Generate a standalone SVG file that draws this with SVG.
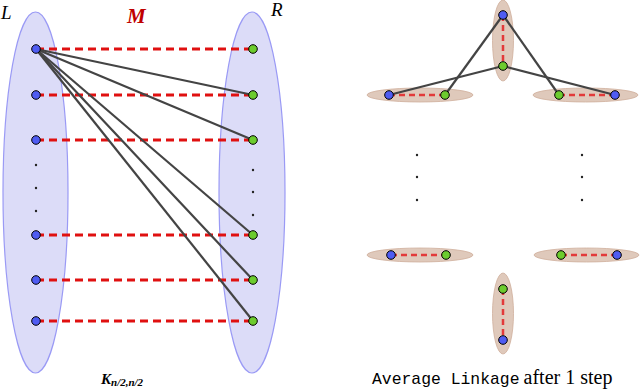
<svg xmlns="http://www.w3.org/2000/svg" width="640" height="392" viewBox="0 0 640 392">
<style>
.set{fill:#dcdcf8;stroke:#9a9af5;stroke-width:1.2}
.clu{fill:#dfc9bb;stroke:#cfae9c;stroke-width:0.8}
.b{fill:#4f5cf2;stroke:#000;stroke-width:1}
.g{fill:#6ccc2e;stroke:#000;stroke-width:1}
.m{stroke:#e01010;stroke-width:3;stroke-dasharray:8,5;fill:none}
.m2{stroke:#e23a3a;stroke-width:2.5;stroke-dasharray:6,4;fill:none}
.e{stroke:#444;stroke-width:2.2;fill:none}
.dot{fill:#222}
.it{font-family:"Liberation Serif","DejaVu Serif",serif;font-style:italic}
</style>
<rect width="640" height="392" fill="#fff"/>
<g id="setL"><ellipse class="set" cx="35.5" cy="192.5" rx="32.5" ry="180.5"/></g>
<g id="setR"><ellipse class="set" cx="252" cy="192.5" rx="33" ry="180.5"/></g>
<g id="clusters">
<ellipse class="clu" cx="503" cy="40.5" rx="10.5" ry="40.5"/>
<ellipse class="clu" cx="420" cy="95" rx="53" ry="7"/>
<ellipse class="clu" cx="585.5" cy="95" rx="52.5" ry="7"/>
<ellipse class="clu" cx="420" cy="255" rx="53" ry="7"/>
<ellipse class="clu" cx="586.5" cy="255" rx="52.5" ry="7"/>
<ellipse class="clu" cx="503" cy="313.5" rx="10.5" ry="40.5"/>
</g>
<g id="connectors">
<line class="m" x1="36" y1="49" x2="253" y2="49"/>
<line class="m" x1="36" y1="95" x2="253" y2="95"/>
<line class="m" x1="36" y1="140" x2="253" y2="140"/>
<line class="m" x1="36" y1="235" x2="253" y2="235"/>
<line class="m" x1="36" y1="280" x2="253" y2="280"/>
<line class="m" x1="36" y1="321" x2="253" y2="321"/>
<line class="e" x1="36" y1="49" x2="253" y2="95"/>
<line class="e" x1="36" y1="49" x2="253" y2="140"/>
<line class="e" x1="36" y1="49" x2="253" y2="235"/>
<line class="e" x1="36" y1="49" x2="253" y2="280"/>
<line class="e" x1="36" y1="49" x2="253" y2="321"/>
<line class="m2" x1="503" y1="15" x2="503" y2="66"/>
<line class="m2" x1="389" y1="95" x2="445" y2="95"/>
<line class="m2" x1="559" y1="95" x2="615" y2="95"/>
<line class="m2" x1="391" y1="255" x2="446" y2="255"/>
<line class="m2" x1="561" y1="255" x2="617" y2="255"/>
<line class="m2" x1="503" y1="289" x2="503" y2="340"/>
<line class="e" x1="503" y1="15" x2="445" y2="95"/>
<line class="e" x1="503" y1="15" x2="559" y2="95"/>
<line class="e" x1="503" y1="66" x2="389" y2="95"/>
<line class="e" x1="503" y1="66" x2="615" y2="95"/>
</g>
<g id="L1"><circle class="b" cx="36" cy="49" r="4.3"/></g>
<g id="L2"><circle class="b" cx="36" cy="95" r="4.3"/></g>
<g id="L3"><circle class="b" cx="36" cy="140" r="4.3"/></g>
<g id="L4"><circle class="b" cx="36" cy="235" r="4.3"/></g>
<g id="L5"><circle class="b" cx="36" cy="280" r="4.3"/></g>
<g id="L6"><circle class="b" cx="36" cy="321" r="4.3"/></g>
<g id="R1"><circle class="g" cx="253" cy="49" r="4.3"/></g>
<g id="R2"><circle class="g" cx="253" cy="95" r="4.3"/></g>
<g id="R3"><circle class="g" cx="253" cy="140" r="4.3"/></g>
<g id="R4"><circle class="g" cx="253" cy="235" r="4.3"/></g>
<g id="R5"><circle class="g" cx="253" cy="280" r="4.3"/></g>
<g id="R6"><circle class="g" cx="253" cy="321" r="4.3"/></g>
<g id="c1"><circle class="b" cx="503" cy="15" r="4.3"/><circle class="g" cx="503" cy="66" r="4.3"/></g>
<g id="c2"><circle class="b" cx="389" cy="95" r="4.3"/><circle class="g" cx="445" cy="95" r="4.3"/></g>
<g id="c3"><circle class="g" cx="559" cy="95" r="4.3"/><circle class="b" cx="615" cy="95" r="4.3"/></g>
<g id="c4"><circle class="b" cx="391" cy="255" r="4.3"/><circle class="g" cx="446" cy="255" r="4.3"/></g>
<g id="c5"><circle class="g" cx="561" cy="255" r="4.3"/><circle class="b" cx="617" cy="255" r="4.3"/></g>
<g id="c6"><circle class="g" cx="503" cy="289" r="4.3"/><circle class="b" cx="503" cy="340" r="4.3"/></g>
<g id="dots">
<circle class="dot" cx="36" cy="165" r="1.2"/><circle class="dot" cx="36" cy="188" r="1.2"/><circle class="dot" cx="36" cy="211" r="1.2"/>
<circle class="dot" cx="253" cy="170" r="1.2"/><circle class="dot" cx="253" cy="192" r="1.2"/><circle class="dot" cx="253" cy="215" r="1.2"/>
<circle class="dot" cx="417" cy="155" r="1.2"/><circle class="dot" cx="417" cy="177" r="1.2"/><circle class="dot" cx="417" cy="200" r="1.2"/>
<circle class="dot" cx="582" cy="155" r="1.2"/><circle class="dot" cx="582" cy="177" r="1.2"/><circle class="dot" cx="582" cy="200" r="1.2"/>
</g>
<g id="labels">
<text class="it" x="1" y="19" font-size="19">L</text>
<text class="it" x="271" y="16" font-size="19">R</text>
<text class="it" x="127" y="23" font-size="21" font-weight="bold" fill="#c00000">M</text>
<text class="it" x="101" y="384" font-size="15" font-weight="bold">K<tspan font-size="11" dy="2">n/2,n/2</tspan></text>
<text x="372" y="384" font-size="16.4"><tspan font-family="'Liberation Mono','DejaVu Sans Mono',monospace">Average Linkage</tspan><tspan font-family="'Liberation Serif','DejaVu Serif',serif" font-size="20" dx="4">after 1 step</tspan></text>
</g>
</svg>
